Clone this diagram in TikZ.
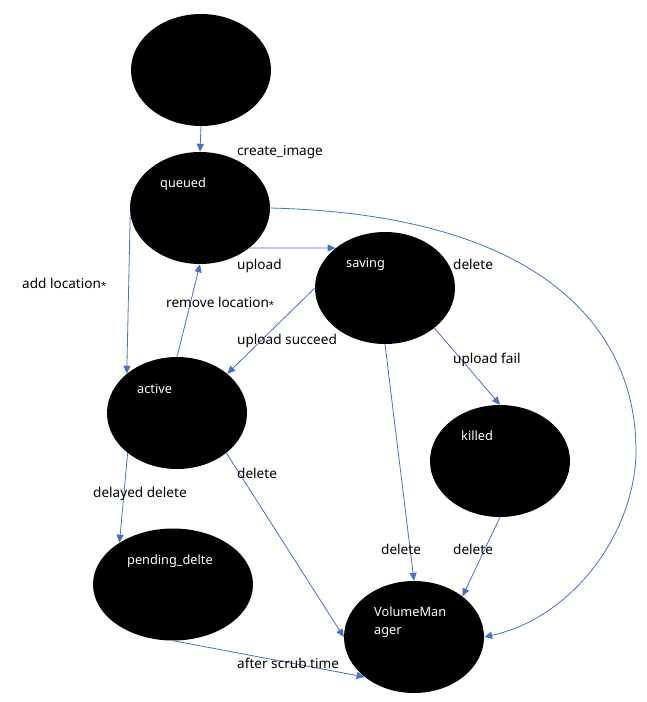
\documentclass[tikz,border=0pt]{standalone}
\usepackage{fontspec}
\setmainfont{Noto Sans}
\usepackage{xcolor}
\usetikzlibrary{arrows.meta, shapes.geometric}

\definecolor{lineblue}{RGB}{68,114,196}
\newcommand{\locast}{\raisebox{-1.5pt}{\fontsize{9.5}{9.5}\selectfont *}}

\begin{document}
\begin{tikzpicture}[x=1pt, y=-1pt,
  stnode/.style={ellipse, fill=black, draw=none, minimum width=140pt,
    minimum height=112pt, inner sep=0pt},
  stname/.style={anchor=west, text=white, inner sep=0pt, align=left, yshift=-1pt,
    font=\fontsize{12.75}{18}\selectfont},
  edgelbl/.style={anchor=west, inner sep=0pt, text height=10pt, text depth=3pt,
    yshift=-1.5pt, font=\fontsize{13.6}{16}\selectfont},
  arr/.style={->, >={Triangle[length=8pt, width=7pt]}, draw=lineblue, line width=0.8pt}
]
  \useasboundingbox (0,0) rectangle (646,702);

  \node[stnode] (start)   at (201, 70)   {};
  \node[stnode] (queued)  at (200, 208)  {};
  \node[stnode] (saving)  at (385, 288)  {};
  \node[stnode] (active)  at (177, 413)  {};
  \node[stnode] (killed)  at (500, 461)  {};
  \node[stnode, minimum width=160pt] (pending) at (173, 584.5) {};
  \node[stnode] (vm)      at (414, 637)  {};

  \node[stname] (queued-t)  at (160, 183) {queued};
  \node[stname] (saving-t)  at (346, 263) {saving};
  \node[stname] (active-t)  at (137, 388) {active};
  \node[stname] (killed-t)  at (461, 435) {killed};
  \node[stname] (pending-t) at (127, 560) {pending\_delte};
  \node[stname] (vm-t)      at (374, 621) {VolumeMan\\ager};

  \coordinate (bend) at (636, 450);

  \draw[arr] (start.south)  -- (queued.north);
  \draw[arr] (queued.185)   -- (active.142);
  \draw[arr] (active.north) -- (queued.south);
  \draw[arr] (queued.-39)   -- (saving.141);
  \draw[arr] (saving.west)  -- (active.38);
  \draw[arr] (queued.east) .. controls (555,215) and (636,339) .. (bend)
                           .. controls (636,530) and (575,617) .. (vm.east);
  \draw[arr] (saving.-39)   -- (killed.north);
  \draw[arr] (saving.south) -- (vm.north);
  \draw[arr] (killed.south) -- (vm.40);
  \draw[arr] (active.-39)   -- (vm.west);
  \draw[arr] (active.219)   -- (pending.142);
  \draw[arr] (pending.south) -- (vm.219);

  \node[edgelbl] (l-create)  at (237, 150) {create\_image};
  \node[edgelbl] (l-upload)  at (237, 264) {upload};
  \node[edgelbl] (l-addloc)  at (22, 283)  {add location\locast};
  \node[edgelbl] (l-remloc)  at (166, 302) {remove location\locast};
  \node[edgelbl] (l-succeed) at (237, 339) {upload succeed};
  \node[edgelbl] (l-qdel)    at (453, 264) {delete};
  \node[edgelbl] (l-fail)    at (453, 358) {upload fail};
  \node[edgelbl] (l-adel)    at (237, 473) {delete};
  \node[edgelbl] (l-delayed) at (93, 492)  {delayed delete};
  \node[edgelbl] (l-sdel)    at (381, 549) {delete};
  \node[edgelbl] (l-kdel)    at (453, 549) {delete};
  \node[edgelbl] (l-scrub)   at (237, 663) {after scrub time};
\end{tikzpicture}
\end{document}
